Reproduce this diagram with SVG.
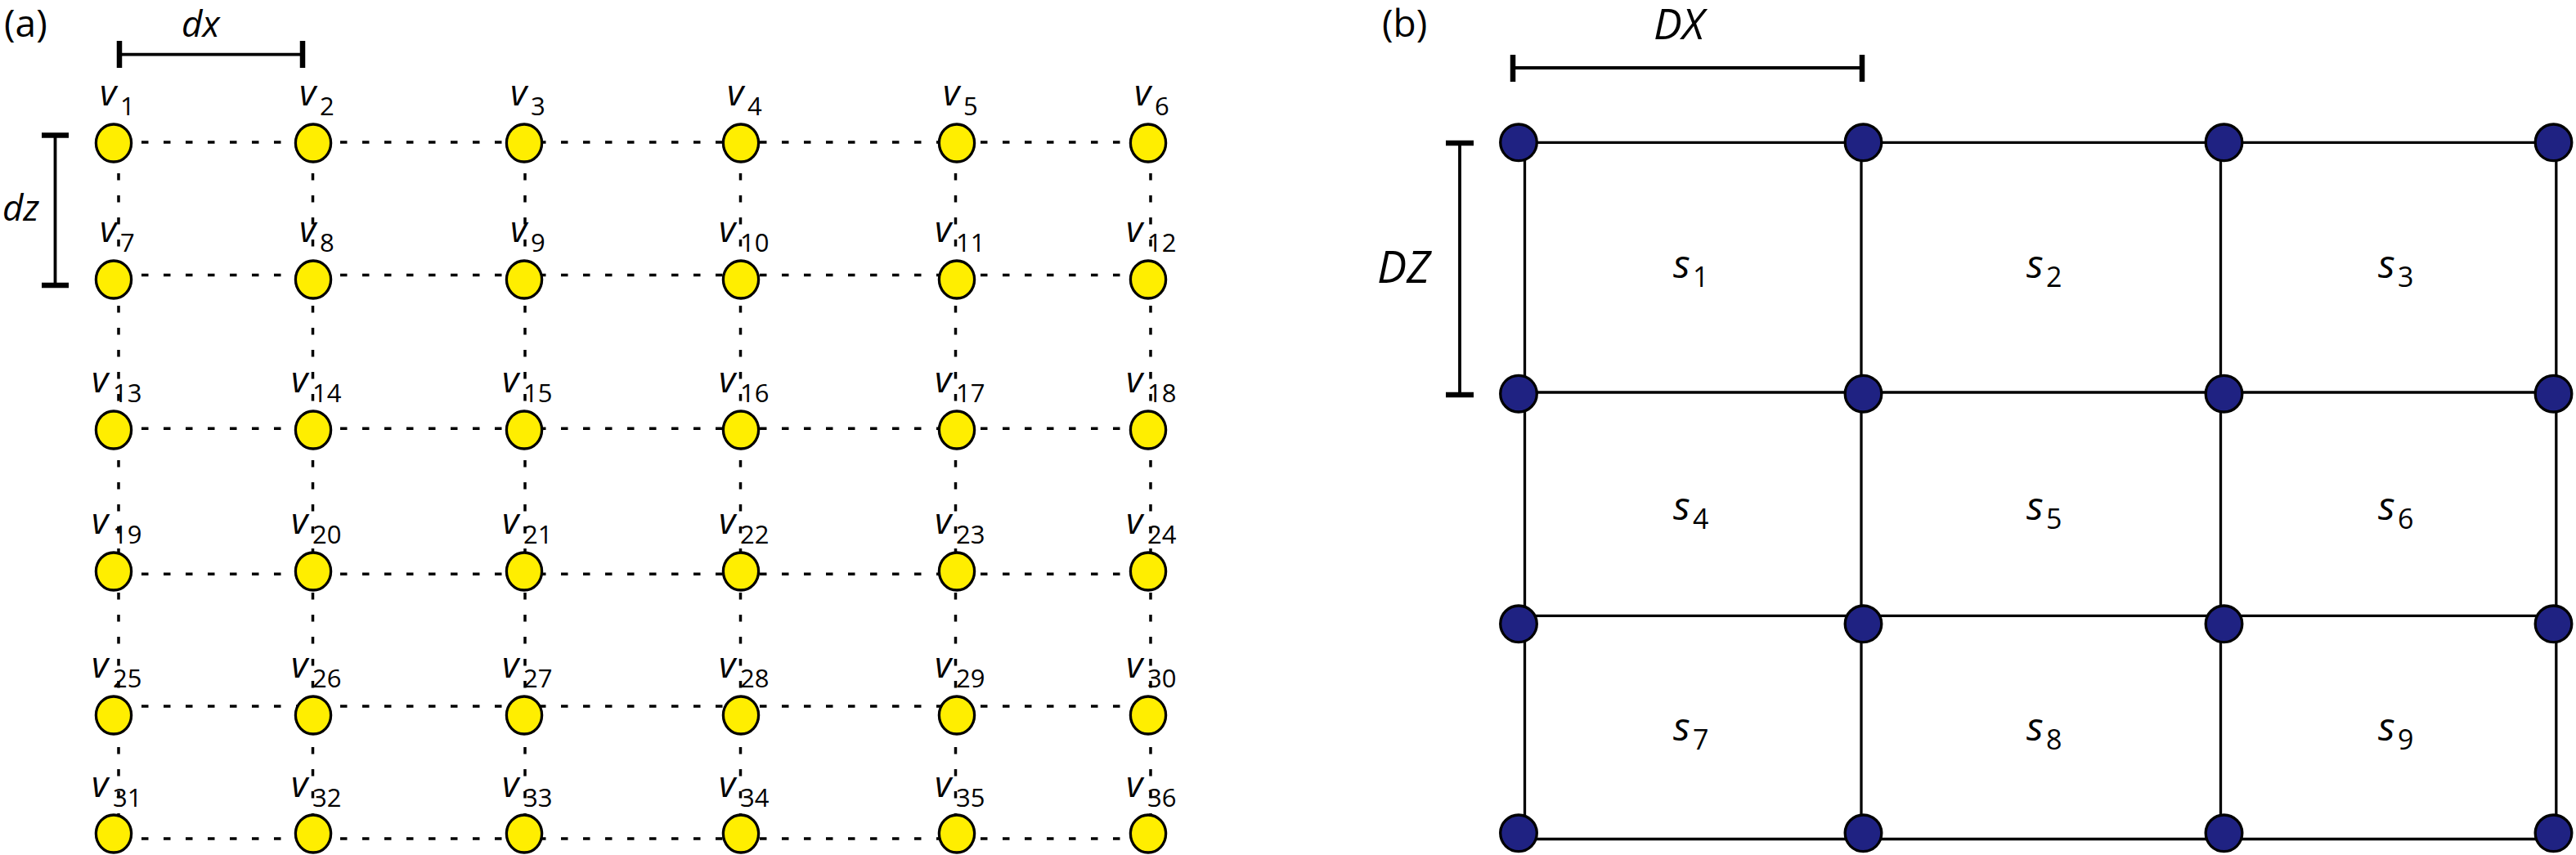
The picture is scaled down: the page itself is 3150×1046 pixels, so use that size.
<svg xmlns="http://www.w3.org/2000/svg" width="3150" height="1046" viewBox="0 0 3150 1046">
<style>
.t{font-family:"Open Sans","Noto Sans",sans-serif;fill:#000}
.it{font-style:italic}
.v{font-family:"Open Sans","Noto Sans",sans-serif;font-style:italic;font-size:44px}
.sub{font-family:"Open Sans","Noto Sans",sans-serif;font-style:normal;font-size:31px}
.s{font-family:"Open Sans","Noto Sans",sans-serif;font-style:italic;font-size:48px}
.ssub{font-family:"Open Sans","Noto Sans",sans-serif;font-style:normal;font-size:34px}
.dash{stroke:#000;stroke-width:3.5;stroke-dasharray:8.5 18.5;fill:none}
.solid{stroke:#000;stroke-width:3.3;fill:none}
.bar{stroke:#000;stroke-width:3.8;fill:none}
.tick{stroke:#000;stroke-width:6.5;fill:none}
.y{fill:#FFEE00;stroke:#000;stroke-width:3.3}
.b{fill:#1F2282;stroke:#000;stroke-width:3.3}
</style>
<rect width="3150" height="1046" fill="#fff"/>

<!-- Panel labels and scale bars -->
<g id="labels">
<text class="t" x="5" y="45" font-size="46">(a)</text>
<text class="t" x="1690" y="45" font-size="46">(b)</text>
<text class="t it" x="222" y="45" font-size="44">dx</text>
<text class="t it" x="3" y="270" font-size="44">dz</text>
<text class="t it" x="2022" y="48" font-size="52">DX</text>
<text class="t it" x="1684" y="346" font-size="54">DZ</text>
</g>
<g id="scalebars">
<line class="bar" x1="146" y1="66.7" x2="370" y2="66.7"/>
<line class="tick" x1="146" y1="50" x2="146" y2="83"/>
<line class="tick" x1="370" y1="50" x2="370" y2="83"/>
<line class="bar" x1="67.5" y1="165.5" x2="67.5" y2="349"/>
<line class="tick" x1="51" y1="165.5" x2="84" y2="165.5"/>
<line class="tick" x1="51" y1="349" x2="84" y2="349"/>
<line class="bar" x1="1850" y1="83" x2="2277" y2="83"/>
<line class="tick" x1="1850" y1="67" x2="1850" y2="100"/>
<line class="tick" x1="2277" y1="67" x2="2277" y2="100"/>
<line class="bar" x1="1785" y1="175" x2="1785" y2="483"/>
<line class="tick" x1="1768" y1="175" x2="1802" y2="175"/>
<line class="tick" x1="1768" y1="483" x2="1802" y2="483"/>
</g>

<!-- Connectors -->
<g id="connectors">
<g id="grid-a">
<line class="dash" x1="139" y1="174" x2="1404" y2="174" stroke-dashoffset="-7"/>
<line class="dash" x1="139" y1="336.5" x2="1404" y2="336.5" stroke-dashoffset="-7"/>
<line class="dash" x1="139" y1="524.3" x2="1404" y2="524.3" stroke-dashoffset="-7"/>
<line class="dash" x1="139" y1="702.3" x2="1404" y2="702.3" stroke-dashoffset="-7"/>
<line class="dash" x1="139" y1="864" x2="1404" y2="864" stroke-dashoffset="-7"/>
<line class="dash" x1="139" y1="1026" x2="1404" y2="1026" stroke-dashoffset="-7"/>
<line class="dash" x1="145" y1="175" x2="145" y2="1020" stroke-dashoffset="-10"/>
<line class="dash" x1="382.5" y1="175" x2="382.5" y2="1020" stroke-dashoffset="-10"/>
<line class="dash" x1="642" y1="175" x2="642" y2="1020" stroke-dashoffset="-10"/>
<line class="dash" x1="905.5" y1="175" x2="905.5" y2="1020" stroke-dashoffset="-10"/>
<line class="dash" x1="1168.5" y1="175" x2="1168.5" y2="1020" stroke-dashoffset="-10"/>
<line class="dash" x1="1407" y1="175" x2="1407" y2="1020" stroke-dashoffset="-10"/>
</g>
<g id="grid-b">
<line class="solid" x1="1857" y1="174.3" x2="3122.5" y2="174.3"/>
<line class="solid" x1="1857" y1="480" x2="3122.5" y2="480"/>
<line class="solid" x1="1857" y1="753.3" x2="3122.5" y2="753.3"/>
<line class="solid" x1="1857" y1="1026.5" x2="3122.5" y2="1026.5"/>
<line class="solid" x1="1864.5" y1="174.3" x2="1864.5" y2="1026.5"/>
<line class="solid" x1="2276" y1="174.3" x2="2276" y2="1026.5"/>
<line class="solid" x1="2715.5" y1="174.3" x2="2715.5" y2="1026.5"/>
<line class="solid" x1="3125.8" y1="174.3" x2="3125.8" y2="1026.5"/>
</g>
</g>

<!-- Panel (a) nodes -->
<g id="v1"><ellipse class="y" cx="139" cy="175" rx="21.6" ry="23"/><text class="v" x="122" y="129">v</text><text class="sub" x="147" y="141">1</text></g>
<g id="v2"><ellipse class="y" cx="383" cy="175" rx="21.6" ry="23"/><text class="v" x="366" y="129">v</text><text class="sub" x="391" y="141">2</text></g>
<g id="v3"><ellipse class="y" cx="641" cy="175" rx="21.6" ry="23"/><text class="v" x="624" y="129">v</text><text class="sub" x="649" y="141">3</text></g>
<g id="v4"><ellipse class="y" cx="906" cy="175" rx="21.6" ry="23"/><text class="v" x="889" y="129">v</text><text class="sub" x="914" y="141">4</text></g>
<g id="v5"><ellipse class="y" cx="1170" cy="175" rx="21.6" ry="23"/><text class="v" x="1153" y="129">v</text><text class="sub" x="1178" y="141">5</text></g>
<g id="v6"><ellipse class="y" cx="1404" cy="175" rx="21.6" ry="23"/><text class="v" x="1387" y="129">v</text><text class="sub" x="1412" y="141">6</text></g>

<g id="v7"><ellipse class="y" cx="139" cy="342" rx="21.6" ry="23"/><text class="v" x="122" y="296">v</text><text class="sub" x="147" y="308">7</text></g>
<g id="v8"><ellipse class="y" cx="383" cy="342" rx="21.6" ry="23"/><text class="v" x="366" y="296">v</text><text class="sub" x="391" y="308">8</text></g>
<g id="v9"><ellipse class="y" cx="641" cy="342" rx="21.6" ry="23"/><text class="v" x="624" y="296">v</text><text class="sub" x="649" y="308">9</text></g>
<g id="v10"><ellipse class="y" cx="906" cy="342" rx="21.6" ry="23"/><text class="v" x="879" y="296">v</text><text class="sub" x="905" y="308">10</text></g>
<g id="v11"><ellipse class="y" cx="1170" cy="342" rx="21.6" ry="23"/><text class="v" x="1143" y="296">v</text><text class="sub" x="1169" y="308">11</text></g>
<g id="v12"><ellipse class="y" cx="1404" cy="342" rx="21.6" ry="23"/><text class="v" x="1377" y="296">v</text><text class="sub" x="1403" y="308">12</text></g>

<g id="v13"><ellipse class="y" cx="139" cy="526" rx="21.6" ry="23"/><text class="v" x="112" y="480">v</text><text class="sub" x="138" y="492">13</text></g>
<g id="v14"><ellipse class="y" cx="383" cy="526" rx="21.6" ry="23"/><text class="v" x="356" y="480">v</text><text class="sub" x="382" y="492">14</text></g>
<g id="v15"><ellipse class="y" cx="641" cy="526" rx="21.6" ry="23"/><text class="v" x="614" y="480">v</text><text class="sub" x="640" y="492">15</text></g>
<g id="v16"><ellipse class="y" cx="906" cy="526" rx="21.6" ry="23"/><text class="v" x="879" y="480">v</text><text class="sub" x="905" y="492">16</text></g>
<g id="v17"><ellipse class="y" cx="1170" cy="526" rx="21.6" ry="23"/><text class="v" x="1143" y="480">v</text><text class="sub" x="1169" y="492">17</text></g>
<g id="v18"><ellipse class="y" cx="1404" cy="526" rx="21.6" ry="23"/><text class="v" x="1377" y="480">v</text><text class="sub" x="1403" y="492">18</text></g>

<g id="v19"><ellipse class="y" cx="139" cy="699" rx="21.6" ry="23"/><text class="v" x="112" y="653">v</text><text class="sub" x="138" y="665">19</text></g>
<g id="v20"><ellipse class="y" cx="383" cy="699" rx="21.6" ry="23"/><text class="v" x="356" y="653">v</text><text class="sub" x="382" y="665">20</text></g>
<g id="v21"><ellipse class="y" cx="641" cy="699" rx="21.6" ry="23"/><text class="v" x="614" y="653">v</text><text class="sub" x="640" y="665">21</text></g>
<g id="v22"><ellipse class="y" cx="906" cy="699" rx="21.6" ry="23"/><text class="v" x="879" y="653">v</text><text class="sub" x="905" y="665">22</text></g>
<g id="v23"><ellipse class="y" cx="1170" cy="699" rx="21.6" ry="23"/><text class="v" x="1143" y="653">v</text><text class="sub" x="1169" y="665">23</text></g>
<g id="v24"><ellipse class="y" cx="1404" cy="699" rx="21.6" ry="23"/><text class="v" x="1377" y="653">v</text><text class="sub" x="1403" y="665">24</text></g>

<g id="v25"><ellipse class="y" cx="139" cy="875" rx="21.6" ry="23"/><text class="v" x="112" y="829">v</text><text class="sub" x="138" y="841">25</text></g>
<g id="v26"><ellipse class="y" cx="383" cy="875" rx="21.6" ry="23"/><text class="v" x="356" y="829">v</text><text class="sub" x="382" y="841">26</text></g>
<g id="v27"><ellipse class="y" cx="641" cy="875" rx="21.6" ry="23"/><text class="v" x="614" y="829">v</text><text class="sub" x="640" y="841">27</text></g>
<g id="v28"><ellipse class="y" cx="906" cy="875" rx="21.6" ry="23"/><text class="v" x="879" y="829">v</text><text class="sub" x="905" y="841">28</text></g>
<g id="v29"><ellipse class="y" cx="1170" cy="875" rx="21.6" ry="23"/><text class="v" x="1143" y="829">v</text><text class="sub" x="1169" y="841">29</text></g>
<g id="v30"><ellipse class="y" cx="1404" cy="875" rx="21.6" ry="23"/><text class="v" x="1377" y="829">v</text><text class="sub" x="1403" y="841">30</text></g>

<g id="v31"><ellipse class="y" cx="139" cy="1020" rx="21.6" ry="23"/><text class="v" x="112" y="975">v</text><text class="sub" x="138" y="987">31</text></g>
<g id="v32"><ellipse class="y" cx="383" cy="1020" rx="21.6" ry="23"/><text class="v" x="356" y="975">v</text><text class="sub" x="382" y="987">32</text></g>
<g id="v33"><ellipse class="y" cx="641" cy="1020" rx="21.6" ry="23"/><text class="v" x="614" y="975">v</text><text class="sub" x="640" y="987">33</text></g>
<g id="v34"><ellipse class="y" cx="906" cy="1020" rx="21.6" ry="23"/><text class="v" x="879" y="975">v</text><text class="sub" x="905" y="987">34</text></g>
<g id="v35"><ellipse class="y" cx="1170" cy="1020" rx="21.6" ry="23"/><text class="v" x="1143" y="975">v</text><text class="sub" x="1169" y="987">35</text></g>
<g id="v36"><ellipse class="y" cx="1404" cy="1020" rx="21.6" ry="23"/><text class="v" x="1377" y="975">v</text><text class="sub" x="1403" y="987">36</text></g>

<!-- Panel (b) cells -->
<g id="s1"><text class="s" x="2046" y="340">s</text><text class="ssub" x="2070" y="351">1</text></g>
<g id="s2"><text class="s" x="2478" y="340">s</text><text class="ssub" x="2502" y="351">2</text></g>
<g id="s3"><text class="s" x="2908" y="340">s</text><text class="ssub" x="2932" y="351">3</text></g>
<g id="s4"><text class="s" x="2046" y="636">s</text><text class="ssub" x="2070" y="647">4</text></g>
<g id="s5"><text class="s" x="2478" y="636">s</text><text class="ssub" x="2502" y="647">5</text></g>
<g id="s6"><text class="s" x="2908" y="636">s</text><text class="ssub" x="2932" y="647">6</text></g>
<g id="s7"><text class="s" x="2046" y="906">s</text><text class="ssub" x="2070" y="917">7</text></g>
<g id="s8"><text class="s" x="2478" y="906">s</text><text class="ssub" x="2502" y="917">8</text></g>
<g id="s9"><text class="s" x="2908" y="906">s</text><text class="ssub" x="2932" y="917">9</text></g>

<!-- Panel (b) nodes -->
<g id="n1"><circle class="b" cx="1857" cy="174.3" r="22.3"/></g>
<g id="n2"><circle class="b" cx="2278.5" cy="174.3" r="22.3"/></g>
<g id="n3"><circle class="b" cx="2719.5" cy="174.3" r="22.3"/></g>
<g id="n4"><circle class="b" cx="3122.5" cy="174.3" r="22.3"/></g>
<g id="n5"><circle class="b" cx="1857" cy="481.7" r="22.3"/></g>
<g id="n6"><circle class="b" cx="2278.5" cy="481.7" r="22.3"/></g>
<g id="n7"><circle class="b" cx="2719.5" cy="481.7" r="22.3"/></g>
<g id="n8"><circle class="b" cx="3122.5" cy="481.7" r="22.3"/></g>
<g id="n9"><circle class="b" cx="1857" cy="763.3" r="22.3"/></g>
<g id="n10"><circle class="b" cx="2278.5" cy="763.3" r="22.3"/></g>
<g id="n11"><circle class="b" cx="2719.5" cy="763.3" r="22.3"/></g>
<g id="n12"><circle class="b" cx="3122.5" cy="763.3" r="22.3"/></g>
<g id="n13"><circle class="b" cx="1857" cy="1019.3" r="22.3"/></g>
<g id="n14"><circle class="b" cx="2278.5" cy="1019.3" r="22.3"/></g>
<g id="n15"><circle class="b" cx="2719.5" cy="1019.3" r="22.3"/></g>
<g id="n16"><circle class="b" cx="3122.5" cy="1019.3" r="22.3"/></g>
</svg>
